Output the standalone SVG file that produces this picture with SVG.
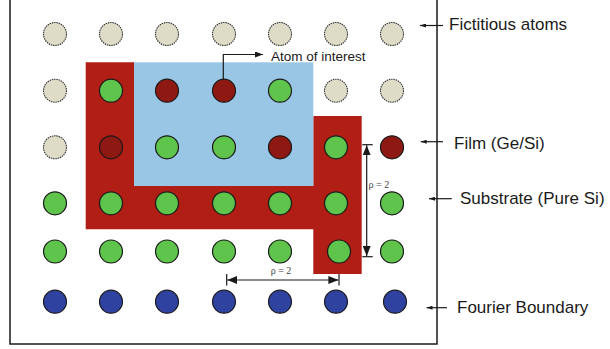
<svg xmlns="http://www.w3.org/2000/svg" width="610" height="349" viewBox="0 0 610 349">
<defs>
<style>
.fict{fill:#dedbc7;stroke:#333;stroke-width:1.1;stroke-dasharray:1.5 0.8}
.green{fill:#5fc44c;stroke:#1a1a1a;stroke-width:1.2}
.film{fill:#8e1912;stroke:#1a1a1a;stroke-width:1.2}
.blue{fill:#2f42a0;stroke:#1a1a1a;stroke-width:1.2}
.lbl{font-family:"Liberation Sans",Arial,sans-serif;font-size:17px;fill:#1a1a1a}
.small{font-family:"Liberation Sans",Arial,sans-serif;font-size:13.5px;fill:#1a1a1a}
.rho{font-family:"Liberation Serif","Times New Roman",serif;font-size:10px;fill:#444}
.ln{stroke:#1a1a1a;stroke-width:1.2;fill:none}
</style>
<marker id="ah" markerWidth="8" markerHeight="6" refX="8" refY="3" orient="auto" markerUnits="userSpaceOnUse">
<path d="M0,0 L8,3 L0,6 Z" fill="#1a1a1a"/>
</marker>
<marker id="ahs" markerWidth="6" markerHeight="4" refX="6" refY="2" orient="auto" markerUnits="userSpaceOnUse">
<path d="M0,0 L6,2 L0,4 Z" fill="#1a1a1a"/>
</marker>
<marker id="dim" markerWidth="10" markerHeight="8" refX="10" refY="4" orient="auto" markerUnits="userSpaceOnUse">
<path d="M0,0 L10,4 L0,8 Z" fill="#1a1a1a"/>
</marker>
</defs>
<rect id="frame" x="10" y="-5" width="427" height="349" fill="#fff" stroke="#1a1a1a" stroke-width="1.5"/>
<g id="regions">
<polygon id="red-region" points="85.7,62.3 134,62.3 134,186 313.3,186 313.3,116 361.7,116 361.7,274 313.3,274 313.3,229.3 85.7,229.3" fill="#b01e16"/>
<rect id="blue-region" x="134" y="62.3" width="179.3" height="123.7" fill="#99c6e4"/>
</g>
<g id="atoms">
<g id="row1">
<circle class="fict" cx="55" cy="34" r="11.5"/><circle class="fict" cx="111" cy="34" r="11.5"/><circle class="fict" cx="167" cy="34" r="11.5"/><circle class="fict" cx="224" cy="34" r="11.5"/><circle class="fict" cx="280" cy="34" r="11.5"/><circle class="fict" cx="336" cy="34" r="11.5"/><circle class="fict" cx="392" cy="34" r="11.5"/>
</g>
<g id="row2">
<circle class="fict" cx="55" cy="90.7" r="11.5"/><circle class="green" cx="111" cy="90.7" r="11.5"/><circle class="film" cx="167" cy="90.7" r="11.5"/><circle id="atom-of-interest" class="film" cx="224" cy="90.7" r="11.5"/><circle class="green" cx="280" cy="90.7" r="11.5"/><circle class="fict" cx="336" cy="90.7" r="11.5"/><circle class="fict" cx="392" cy="90.7" r="11.5"/>
</g>
<g id="row3">
<circle class="fict" cx="55" cy="147.3" r="11.5"/><circle class="film" cx="111" cy="147.3" r="11.5"/><circle class="green" cx="167" cy="147.3" r="11.5"/><circle class="green" cx="224" cy="147.3" r="11.5"/><circle class="film" cx="280" cy="147.3" r="11.5"/><circle class="green" cx="336" cy="147.3" r="11.5"/><circle class="film" cx="392" cy="147.3" r="11.5"/>
</g>
<g id="row4">
<circle class="green" cx="55" cy="203.3" r="11.5"/><circle class="green" cx="111" cy="203.3" r="11.5"/><circle class="green" cx="167" cy="203.3" r="11.5"/><circle class="green" cx="224" cy="203.3" r="11.5"/><circle class="green" cx="280" cy="203.3" r="11.5"/><circle class="green" cx="336" cy="203.3" r="11.5"/><circle class="green" cx="392" cy="203.3" r="11.5"/>
</g>
<g id="row5">
<circle class="green" cx="55" cy="251.5" r="11.5"/><circle class="green" cx="111" cy="251.5" r="11.5"/><circle class="green" cx="167" cy="251.5" r="11.5"/><circle class="green" cx="224" cy="251.5" r="11.5"/><circle class="green" cx="280" cy="251.5" r="11.5"/><circle class="green" cx="339" cy="251.5" r="11.5"/><circle class="green" cx="392" cy="251.5" r="11.5"/>
</g>
<g id="row6">
<circle class="blue" cx="55" cy="301.7" r="11.5"/><circle class="blue" cx="111" cy="301.7" r="11.5"/><circle class="blue" cx="167" cy="301.7" r="11.5"/><circle class="blue" cx="224" cy="301.7" r="11.5"/><circle class="blue" cx="280" cy="301.7" r="11.5"/><circle class="blue" cx="336" cy="301.7" r="11.5"/><circle class="blue" cx="395" cy="301.7" r="11.5"/>
</g>
</g>
<g id="connectors">
<polyline class="ln" points="223.3,79.5 223.3,54.5 263,54.5" marker-end="url(#ah)"/>
<line class="ln" x1="443" y1="25.5" x2="420" y2="25.5" marker-end="url(#ahs)"/>
<line class="ln" x1="443" y1="141.7" x2="420.7" y2="141.7" marker-end="url(#ahs)"/>
<line class="ln" x1="451.7" y1="198.7" x2="429" y2="198.7" marker-end="url(#ahs)"/>
<line class="ln" x1="447" y1="307.7" x2="426.5" y2="307.7" marker-end="url(#ahs)"/>
</g>
<g id="dimension-vertical">
<line class="ln" x1="362.3" y1="144.7" x2="372.7" y2="144.7"/>
<line class="ln" x1="362.3" y1="256.7" x2="372.7" y2="256.7"/>
<line class="ln" x1="366.7" y1="200" x2="366.7" y2="145.3" marker-end="url(#dim)"/>
<line class="ln" x1="366.7" y1="200" x2="366.7" y2="256.1" marker-end="url(#dim)"/>
<text class="rho" x="368.5" y="187.5">ρ = 2</text>
</g>
<g id="dimension-horizontal">
<line class="ln" x1="226.7" y1="274" x2="226.7" y2="285.5"/>
<line class="ln" x1="339" y1="274" x2="339" y2="285.5"/>
<line class="ln" x1="283" y1="280" x2="227.3" y2="280" marker-end="url(#dim)"/>
<line class="ln" x1="283" y1="280" x2="338.4" y2="280" marker-end="url(#dim)"/>
<text class="rho" x="281" y="274" text-anchor="middle">ρ = 2</text>
</g>
<g id="labels">
<text class="small" x="271" y="60.5">Atom of interest</text>
<text class="lbl" x="449" y="30">Fictitious atoms</text>
<text class="lbl" x="454" y="148.5">Film (Ge/Si)</text>
<text class="lbl" x="460" y="204">Substrate (Pure Si)</text>
<text class="lbl" x="457" y="313">Fourier Boundary</text>
</g>
</svg>
